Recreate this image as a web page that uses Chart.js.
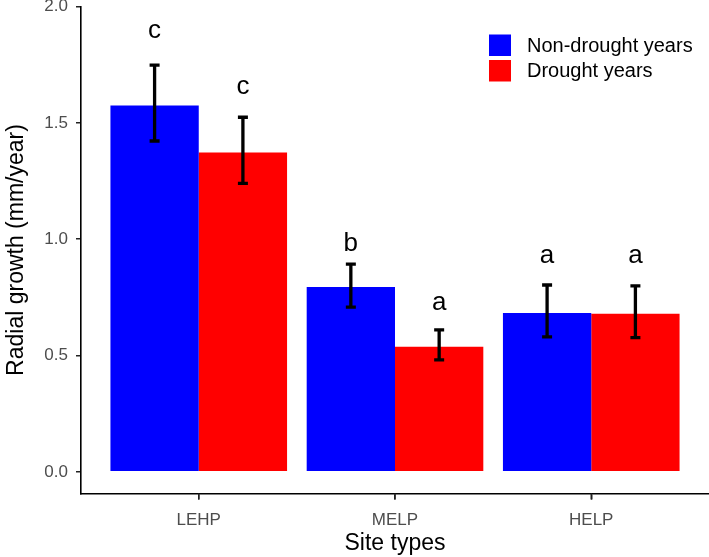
<!DOCTYPE html>
<html>
<head>
<meta charset="utf-8">
<script src="https://cdn.jsdelivr.net/npm/chart.js@4.4.1/dist/chart.umd.min.js"></script>
<style>
  html, body { margin: 0; padding: 0; background: #fff; }
  #wrap { width: 709px; height: 557px; }
</style>
</head>
<body>
<div id="wrap"><canvas id="graph" width="709" height="557"></canvas></div>
<script>
const categories = ["LEHP", "MELP", "HELP"];
const seriesNames = ["Non-drought years", "Drought years"];

const nonDrought = [1.575, 0.795, 0.683];
const nonDroughtUpper = [1.748, 0.893, 0.803];
const nonDroughtLower = [1.422, 0.708, 0.580];
const nonDroughtLetters = ["c", "b", "a"];
const nonDroughtLetterY = [1.864, 0.950, 0.899];

const drought = [1.373, 0.538, 0.679];
const droughtUpper = [1.524, 0.610, 0.799];
const droughtLower = [1.240, 0.481, 0.577];
const droughtLetters = ["c", "a", "a"];
const droughtLetterY = [1.624, 0.694, 0.899];

const yTicks = [0, 0.5, 1.0, 1.5, 2.0];

const FONT = "'Liberation Sans', Arial, sans-serif";

const errorBars = [
  { upper: nonDroughtUpper, lower: nonDroughtLower, letters: nonDroughtLetters, letterY: nonDroughtLetterY },
  { upper: droughtUpper, lower: droughtLower, letters: droughtLetters, letterY: droughtLetterY }
];

// error bars + significance letters
const errorBarPlugin = {
  id: "errorBars",
  afterDatasetsDraw(chart) {
    const ctx = chart.ctx;
    const y = chart.scales.y;
    ctx.save();
    errorBars.forEach((eb, di) => {
      const meta = chart.getDatasetMeta(di);
      meta.data.forEach((bar, i) => {
        const top = y.getPixelForValue(eb.upper[i]);
        const bot = y.getPixelForValue(eb.lower[i]);
        ctx.strokeStyle = "#000";
        ctx.lineWidth = 3.3;
        ctx.beginPath();
        ctx.moveTo(bar.x, top);
        ctx.lineTo(bar.x, bot);
        ctx.moveTo(bar.x - 5, top);
        ctx.lineTo(bar.x + 5, top);
        ctx.moveTo(bar.x - 5, bot);
        ctx.lineTo(bar.x + 5, bot);
        ctx.stroke();

        ctx.fillStyle = "#000";
        ctx.font = "26px " + FONT;
        ctx.textAlign = "center";
        ctx.textBaseline = "alphabetic";
        ctx.fillText(eb.letters[i], bar.x, y.getPixelForValue(eb.letterY[i]));
      });
    });
    ctx.restore();
  }
};

// legend inside the panel, top right + x tick marks under the axis
const legendPlugin = {
  id: "insideLegend",
  afterDraw(chart) {
    const ctx = chart.ctx;
    const area = chart.chartArea;
    const xs = chart.scales.x;
    ctx.save();
    ctx.strokeStyle = "#222";
    ctx.lineWidth = 1.5;
    xs.ticks.forEach((t, i) => {
      const px = xs.getPixelForTick(i);
      ctx.beginPath();
      ctx.moveTo(px, area.bottom);
      ctx.lineTo(px, area.bottom + 6);
      ctx.stroke();
    });

    const x0 = area.right - 220;
    const y0 = area.top + 28;
    chart.data.datasets.forEach((ds, i) => {
      const yy = y0 + i * 25.5;
      ctx.fillStyle = ds.backgroundColor;
      ctx.fillRect(x0, yy, 22, 21.5);
      ctx.fillStyle = "#000";
      ctx.font = "20px " + FONT;
      ctx.textAlign = "left";
      ctx.textBaseline = "middle";
      ctx.fillText(ds.label, x0 + 38, yy + 11.5);
    });
    ctx.restore();
  }
};

const ctx = document.getElementById("graph").getContext("2d");
const myChart = new Chart(ctx, {
  type: "bar",
  data: {
    datasets: [
      {
        label: seriesNames[0],
        data: nonDrought.map((v, i) => ({ x: i + 1, y: v })),
        backgroundColor: "#0000FF"
      },
      {
        label: seriesNames[1],
        data: drought.map((v, i) => ({ x: i + 1, y: v })),
        backgroundColor: "#FF0000"
      }
    ]
  },
  options: {
    responsive: false,
    animation: false,
    devicePixelRatio: 1,
    layout: { padding: { top: 6.5, right: 0, left: 0, bottom: 0 } },
    datasets: {
      bar: { categoryPercentage: 0.9, barPercentage: 1.0, borderWidth: 0 }
    },
    plugins: {
      legend: { display: false },
      tooltip: { enabled: false }
    },
    scales: {
      x: {
        type: "linear",
        offset: false,
        min: 0.4,
        max: 3.6,
        afterBuildTicks(scale) {
          scale.ticks = categories.map((c, i) => ({ value: i + 1 }));
        },
        afterFit(scale) {
          scale.height = 63.5;
          scale.paddingLeft = 0;
          scale.paddingRight = 0;
        },
        ticks: {
          autoSkip: false,
          maxRotation: 0,
          padding: 11,
          color: "#4D4D4D",
          font: { family: FONT, size: 17 },
          callback: (v) => categories[v - 1]
        },
        grid: {
          offset: false,
          drawOnChartArea: false,
          drawTicks: true,
          tickLength: 6,
          color: "#222",
          lineWidth: 1.5
        },
        border: { display: true, color: "#000", width: 1.6 },
        title: {
          display: true,
          text: "Site types",
          color: "#000",
          font: { family: FONT, size: 23 },
          padding: { top: 0, bottom: 0 }
        }
      },
      y: {
        min: -0.093,
        max: 2.0,
        afterBuildTicks(scale) {
          scale.ticks = yTicks.map((v) => ({ value: v }));
        },
        afterFit(scale) {
          scale.width = 81;
          scale.paddingTop = 0;
          scale.paddingBottom = 0;
        },
        ticks: {
          padding: 8,
          color: "#4D4D4D",
          font: { family: FONT, size: 17 },
          callback: (v) => v.toFixed(1)
        },
        grid: {
          drawOnChartArea: false,
          drawTicks: true,
          tickLength: 5,
          color: "#222",
          lineWidth: 1.5
        },
        border: { display: true, color: "#000", width: 1.6 },
        title: {
          display: true,
          text: "Radial growth (mm/year)",
          color: "#000",
          font: { family: FONT, size: 23 },
          padding: { top: 3, bottom: 0 }
        }
      }
    }
  },
  plugins: [errorBarPlugin, legendPlugin]
});
</script>
</body>
</html>
